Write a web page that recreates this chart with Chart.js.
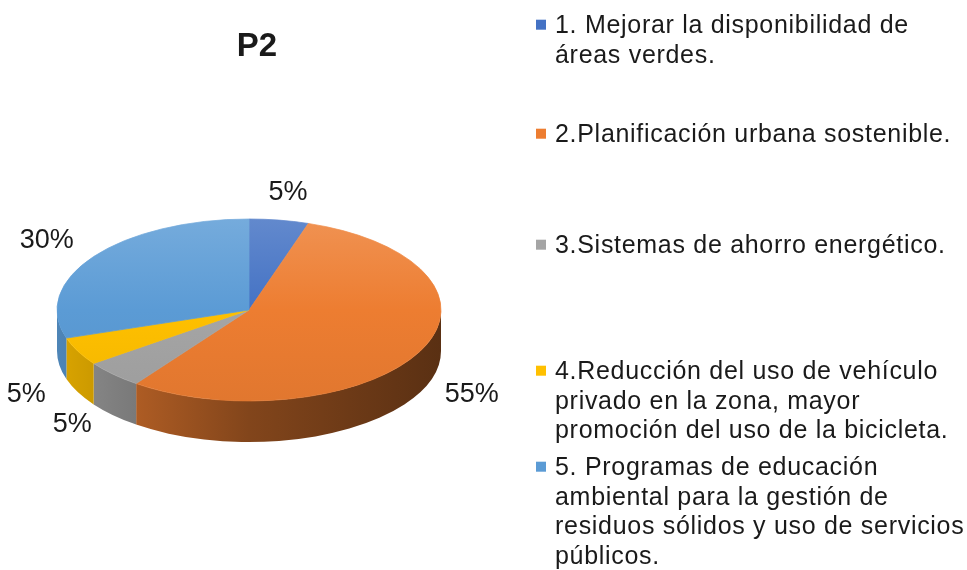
<!DOCTYPE html>
<html>
<head>
  <meta charset="utf-8">
  <title>P2</title>
  <script src="https://cdn.jsdelivr.net/npm/chart.js@4.4.1/dist/chart.umd.min.js"></script>
  <style>
    html, body { margin: 0; padding: 0; background: #fff; }
  </style>
</head>
<body>
  <canvas id="chart" width="967" height="570"></canvas>

  <script>
    // datos del grafico
    const chartTitle = 'P2';
    const categories = [
      ['1. Mejorar la disponibilidad de', 'áreas verdes.'],
      ['2.Planificación urbana sostenible.'],
      ['3.Sistemas de ahorro energético.'],
      ['4.Reducción del uso de vehículo', 'privado en la zona, mayor', 'promoción del uso de la bicicleta.'],
      ['5. Programas de educación', 'ambiental para la gestión de', 'residuos sólidos y uso de servicios', 'públicos.']
    ];
    const percentages = [5, 55, 5, 5, 30];
    const sliceColors = ['#4472C4', '#ED7D31', '#A5A5A5', '#FFC000', '#5B9BD5'];

    // forma del pastel 3D
    const tilt = 91 / 192;   // alto / ancho de la elipse
    const depth = 41;        // grosor del pastel
    const labelRadius = 250;
    const FONT = "'Liberation Sans', Arial, sans-serif";
    const TEXT_COLOR = '#1a1a1a';
    const legendBaselines = [33, 142, 253, 379, 475];
    const legendLineHeight = 29.5;

    function rgb(hex) {
      const n = parseInt(hex.slice(1), 16);
      return [(n >> 16) & 255, (n >> 8) & 255, n & 255];
    }
    function shade(hex, f) {
      const c = rgb(hex).map(v => Math.round(Math.min(255, v * f)));
      return `rgb(${c[0]},${c[1]},${c[2]})`;
    }
    function mixWhite(hex, t) {
      const c = rgb(hex).map(v => Math.round(v + (255 - v) * t));
      return `rgb(${c[0]},${c[1]},${c[2]})`;
    }

    // degradado vertical de la cara superior
    function topFill(c) {
      const chart = c.chart;
      const area = chart.chartArea;
      const base = sliceColors[c.dataIndex];
      if (!area) return base;
      const g = chart.ctx.createLinearGradient(0, area.top, 0, area.bottom);
      g.addColorStop(0, mixWhite(base, 0.16));
      g.addColorStop(0.5, base);
      g.addColorStop(1, shade(base, 0.95));
      return g;
    }

    const pie3d = {
      id: 'pie3d',
      beforeDatasetsDraw(chart) {
        const ctx = chart.ctx;
        const arcs = chart.getDatasetMeta(0).data;
        ctx.save();
        // pared lateral (solo la mitad frontal)
        arcs.forEach((arc, i) => {
          const a0 = Math.max(arc.startAngle, 0);
          const a1 = Math.min(arc.endAngle, Math.PI);
          if (a1 <= a0) return;
          const rx = arc.outerRadius, ry = arc.outerRadius * tilt;
          const g = ctx.createLinearGradient(arc.x - rx, 0, arc.x + rx, 0);
          g.addColorStop(0, shade(sliceColors[i], 0.86));
          g.addColorStop(0.5, shade(sliceColors[i], 0.55));
          g.addColorStop(1, shade(sliceColors[i], 0.38));
          ctx.beginPath();
          ctx.ellipse(arc.x, arc.y, rx, ry, 0, a0, a1, false);
          ctx.ellipse(arc.x, arc.y + depth, rx, ry, 0, a1, a0, true);
          ctx.closePath();
          ctx.fillStyle = g;
          ctx.fill();
        });
        // aplastar el circulo para la cara superior
        const a = arcs[0];
        ctx.translate(a.x, a.y);
        ctx.scale(1, tilt);
        ctx.translate(-a.x, -a.y);
      },
      afterDatasetsDraw(chart) {
        chart.ctx.restore();
      },
      afterDraw(chart) {
        const ctx = chart.ctx;
        const arcs = chart.getDatasetMeta(0).data;
        ctx.save();
        ctx.fillStyle = TEXT_COLOR;

        // titulo
        ctx.font = 'bold 33px ' + FONT;
        ctx.textAlign = 'center';
        ctx.textBaseline = 'alphabetic';
        ctx.fillText(chartTitle, 257, 56);

        // etiquetas de porcentaje
        ctx.font = '27px ' + FONT;
        ctx.textBaseline = 'middle';
        arcs.forEach((arc, i) => {
          const mid = (arc.startAngle + arc.endAngle) / 2;
          const s = Math.sin(mid), c = Math.cos(mid);
          const x = arc.x + labelRadius * c;
          const y = arc.y + labelRadius * tilt * s + (s > 0 ? depth * 0.75 : 0);
          ctx.fillText(percentages[i] + '%', x, y);
        });

        // leyenda
        ctx.font = '25px ' + FONT;
        ctx.textAlign = 'left';
        ctx.textBaseline = 'alphabetic';
        if ('letterSpacing' in ctx) ctx.letterSpacing = '0.7px';
        chart.data.labels.forEach((lines, i) => {
          const b = legendBaselines[i];
          ctx.fillStyle = sliceColors[i];
          ctx.fillRect(536, b - 13.3, 10, 10);
          ctx.fillStyle = TEXT_COLOR;
          lines.forEach((line, j) => {
            ctx.fillText(line, 555, b + j * legendLineHeight);
          });
        });
        ctx.restore();
      }
    };

    new Chart(document.getElementById('chart').getContext('2d'), {
      type: 'pie',
      data: {
        labels: categories,
        datasets: [{
          data: percentages,
          backgroundColor: topFill,
          borderColor: topFill,
          borderWidth: 1
        }]
      },
      options: {
        responsive: false,
        animation: false,
        devicePixelRatio: 1,
        radius: 192,
        layout: { padding: { left: 57, right: 526, top: 118, bottom: 68 } },
        plugins: {
          legend: { display: false },
          tooltip: { enabled: false },
          title: { display: false }
        }
      },
      plugins: [pie3d]
    });
  </script>
</body>
</html>
